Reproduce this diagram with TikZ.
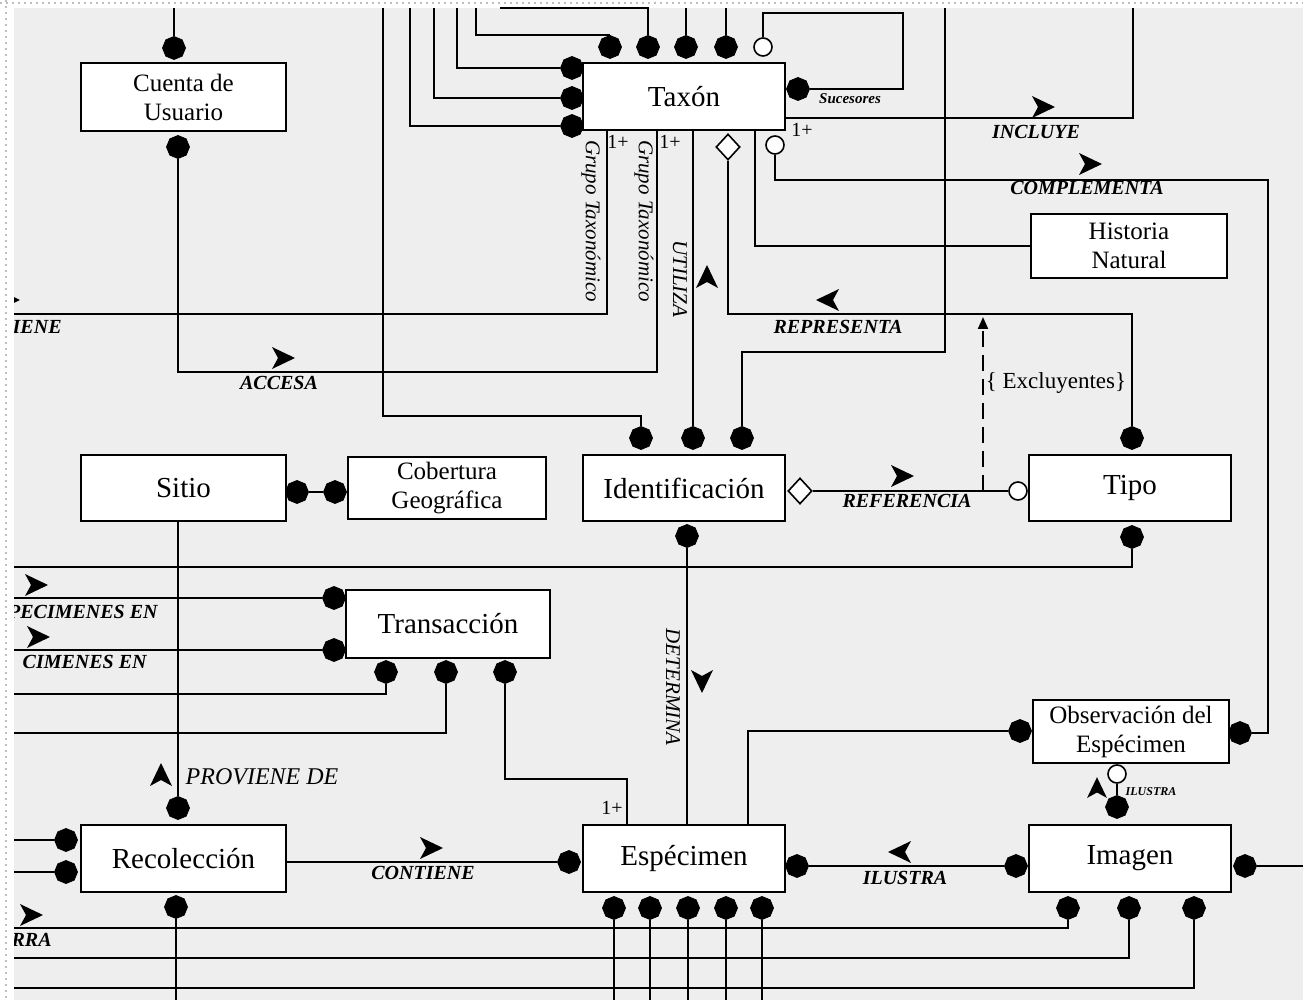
\documentclass[tikz,border=0pt]{standalone}
\usepackage{fontspec}
\setmainfont{Liberation Serif}
\usetikzlibrary{shapes.geometric,arrows.meta}
\pgfdeclarelayer{back}
\pgfdeclarelayer{lines}
\pgfsetlayers{back,lines,main}
\begin{document}
\begin{tikzpicture}[x=0.5pt,y=-0.5pt,
  ent/.style={draw,fill=white,line width=1pt,inner sep=0pt,align=center},
  bigt/.style={font=\fontsize{14.5}{17}\selectfont},
  twot/.style={font=\fontsize{12.5}{14.5}\selectfont},
  fd/.style={regular polygon,regular polygon sides=8,shape border rotate=22.5,fill=black,draw=black,inner sep=0pt,minimum size=11.5pt},
  hc/.style={circle,draw=black,fill=white,line width=0.8pt,inner sep=0pt,minimum size=9pt},
  hd/.style={diamond,draw=black,fill=white,line width=0.8pt,inner sep=0pt,minimum width=12pt,minimum height=13pt},
  rel/.style={font=\fontsize{10.5}{12}\selectfont\itshape,inner sep=0pt},
  relb/.style={font=\fontsize{10}{12}\selectfont\bfseries\itshape,inner sep=0pt},
  card/.style={font=\fontsize{10}{12}\selectfont,inner sep=0pt},
  conn/.style={line width=1pt},
  relarr/.pic={\fill[black] (6pt,0pt) -- (-5.5pt,5.5pt) -- (-2.5pt,0pt) -- (-5.5pt,-5.5pt) -- cycle;}
]
\useasboundingbox (0,0) rectangle (1303,1000);
\begin{pgfonlayer}{back}
\fill[white] (0,0) rectangle (1303,1000);
\fill[gray!13] (14,8) rectangle (1303,1000);
\draw[gray!50,dotted,line width=1pt] (0,3) -- (1303,3);
\draw[gray!50,dotted,line width=1pt] (6,0) -- (6,1000);
\end{pgfonlayer}

% entities
\node[ent,twot,minimum width=102.5pt,minimum height=34pt] (cuenta) at (183.5,97) {Cuenta de\\Usuario};
\node[ent,bigt,minimum width=101pt,minimum height=33.5pt] (taxon) at (684,96.5) {Taxón};
\node[ent,twot,minimum width=98pt,minimum height=32pt] (hist) at (1129,246) {Historia\\Natural};
\node[ent,bigt,minimum width=102.5pt,minimum height=33pt] (sitio) at (183.5,488) {Sitio};
\node[ent,twot,minimum width=99pt,minimum height=31pt] (cob) at (447,488) {Cobertura\\Geográfica};
\node[ent,bigt,minimum width=101pt,minimum height=33pt] (ident) at (684,488) {Identificación};
\node[ent,bigt,minimum width=101pt,minimum height=33pt] (tipo) at (1130,488) {Tipo};
\node[ent,bigt,minimum width=102pt,minimum height=34pt] (trans) at (448,624) {Transacción};
\node[ent,twot,minimum width=98pt,minimum height=31.5pt] (obs) at (1131,731.5) {Observación del\\Espécimen};
\node[ent,bigt,minimum width=102.5pt,minimum height=33.5pt] (recol) at (183.5,858.5) {Recolección};
\node[ent,bigt,minimum width=101pt,minimum height=33.5pt] (espec) at (684,858.5) {Espécimen};
\node[ent,bigt,minimum width=101pt,minimum height=33.5pt] (imagen) at (1130,858.5) {Imagen};

% markers
\node[fd] (mCuT) at (174,48) {};
\node[fd] (mCuB) at (178,147) {};
\node[fd] (mTT1) at (610,47) {};
\node[fd] (mTT2) at (648,47) {};
\node[fd] (mTT3) at (686,47) {};
\node[fd] (mTT4) at (726,47) {};
\node[hc] (cTT5) at (763,47) {};
\node[fd] (mTL1) at (572,68) {};
\node[fd] (mTL2) at (572,98) {};
\node[fd] (mTL3) at (572,126) {};
\node[fd] (mSuc) at (798,89) {};
\node[hd] (dTB) at (728,147) {};
\node[hc] (cTB) at (775,145) {};
\node[fd] (mId1) at (641,438) {};
\node[fd] (mId2) at (693,438) {};
\node[fd] (mId3) at (742,438) {};
\node[hd] (dIdR) at (800,491) {};
\node[fd] (mIdB) at (687,536) {};
\node[hc] (cTipoL) at (1018,491) {};
\node[fd] (mTipoT) at (1132,438) {};
\node[fd] (mTipoB) at (1132,537) {};
\node[fd] (mSitR) at (297,492) {};
\node[fd] (mCobL) at (335,492) {};
\node[fd] (mTrL1) at (334,598) {};
\node[fd] (mTrL2) at (334,650) {};
\node[fd] (mTrB1) at (386,672) {};
\node[fd] (mTrB2) at (446,672) {};
\node[fd] (mTrB3) at (505,672) {};
\node[fd] (mObsL) at (1020,731) {};
\node[fd] (mObsR) at (1240,733) {};
\node[hc] (cObsB) at (1117,774) {};
\node[fd] (mImT) at (1117,807) {};
\node[fd] (mImL) at (1016,866) {};
\node[fd] (mImR) at (1245,866) {};
\node[fd] (mImB1) at (1068,908) {};
\node[fd] (mImB2) at (1129,908) {};
\node[fd] (mImB3) at (1194,908) {};
\node[fd] (mReT) at (178,808) {};
\node[fd] (mReL1) at (66,840) {};
\node[fd] (mReL2) at (66,872) {};
\node[fd] (mReB) at (176,907) {};
\node[fd] (mEsL) at (569,862) {};
\node[fd] (mEsR) at (797,866) {};
\node[fd] (mEsB1) at (614,908) {};
\node[fd] (mEsB2) at (650,908) {};
\node[fd] (mEsB3) at (688,908) {};
\node[fd] (mEsB4) at (726,908) {};
\node[fd] (mEsB5) at (762,908) {};

% free ends
\coordinate (e174) at (174,8);
\coordinate (e457) at (457,8);
\coordinate (e434) at (434,8);
\coordinate (e410) at (410,8);
\coordinate (e476) at (476,8);
\coordinate (e500) at (500,8);
\coordinate (e686) at (686,8);
\coordinate (e726) at (726,8);
\coordinate (e383) at (383,8);
\coordinate (e945) at (945,8);
\coordinate (e1133) at (1133,8);
\coordinate (eL314) at (14,314);
\coordinate (eL567) at (14,567);
\coordinate (eL598) at (14,598);
\coordinate (eL650) at (14,650);
\coordinate (eL694) at (14,694);
\coordinate (eL733) at (14,733);
\coordinate (eL840) at (14,840);
\coordinate (eL872) at (14,872);
\coordinate (eL928) at (14,928);
\coordinate (eL958) at (14,958);
\coordinate (eL988) at (14,988);
\coordinate (eR866) at (1303,866);
\coordinate (eB176) at (176,1000);
\coordinate (exA) at (983,491);
\coordinate (exB) at (983,317);

\begin{pgfonlayer}{lines}
\draw[conn] (mCuT) -- (e174);
\draw[conn] (mCuB) |- (657,372) -- (taxon.south -| 657,0);
\draw[conn] (taxon.south -| 607,0) |- (eL314);
\draw[conn] (taxon.south -| 693,0) -- (mId2);
\draw[conn] (dTB) -- (728,314) -| (mTipoT);
\draw[conn] (taxon.south -| 755,0) |- (hist.west);
\draw[conn] (cTB) |- (1268,180) |- (mObsR);
\draw[conn] (taxon.east |- 0,118) -- (1133,118) -- (e1133);
\draw[conn] (mSuc) -- (903,89) -- (903,13) -| (cTT5);
\draw[conn] (mTL1) -| (e457);
\draw[conn] (mTL2) -| (e434);
\draw[conn] (mTL3) -| (e410);
\draw[conn] (mTT1.north) -| (e476);
\draw[conn] (mTT2) |- (e500);
\draw[conn] (mTT3) -- (e686);
\draw[conn] (mTT4) -- (e726);
\draw[conn] (e383) -- (383,416) -| (mId1);
\draw[conn] (mId3) |- (945,352) -- (e945);
\draw[conn] (dIdR) -- (cTipoL);
\draw[conn,dashed,dash pattern=on 8pt off 4pt,-{Triangle[length=6pt,width=5pt]}] (exA) -- (exB);
\draw[conn] (mIdB) -- (espec.north -| 687,0);
\draw[conn] (mSitR) -- (mCobL);
\draw[conn] (sitio.south -| 178,0) -- (mReT);
\draw[conn] (mTipoB) |- (eL567);
\draw[conn] (mTrL1) -- (eL598);
\draw[conn] (mTrL2) -- (eL650);
\draw[conn] (mTrB1) |- (eL694);
\draw[conn] (mTrB2) |- (eL733);
\draw[conn] (mTrB3) |- (627,779) -- (espec.north -| 627,0);
\draw[conn] (espec.north -| 748,0) |- (mObsL);
\draw[conn] (cObsB) -- (mImT);
\draw[conn] (mImL) -- (mEsR);
\draw[conn] (mImR) -- (eR866);
\draw[conn] (mImB1) |- (eL928);
\draw[conn] (mImB2) |- (eL958);
\draw[conn] (mImB3) |- (eL988);
\foreach \n/\x in {1/614,2/650,3/688,4/726,5/762} {
  \draw[conn] (mEsB\n) -- (\x,1000);
}
\draw[conn] (mReL1) -- (eL840);
\draw[conn] (mReL2) -- (eL872);
\draw[conn] (mReB) -- (eB176);
\draw[conn] (recol.east |- mEsL) -- (mEsL);
\end{pgfonlayer}

% labels
\node[relb] (lInc) at (1036,132) {INCLUYE};
\node[relb] (lCom) at (1087,188) {COMPLEMENTA};
\node[relb] (lRep) at (838,327) {REPRESENTA};
\node[relb] (lAcc) at (279,383) {ACCESA};
\node[relb] (lRef) at (907,501) {REFERENCIA};
\node[relb] (lCon) at (423,873) {CONTIENE};
\node[relb] (lIlu) at (905,878) {ILUSTRA};
\node[rel,font=\fontsize{12}{14}\selectfont\itshape] (lPro) at (262,777) {PROVIENE DE};
\node[rel,font=\fontsize{6}{7}\selectfont\bfseries\itshape] (lIlu2) at (1151,792) {ILUSTRA};
\node[rel,font=\fontsize{7.5}{9}\selectfont\bfseries\itshape] (lSuc) at (850,99) {Sucesores};
\node[font=\fontsize{11.5}{13}\selectfont,inner sep=0pt] (lExc) at (1056,383) {\{ Excluyentes\}};
\node[rel,rotate=-90] (lGT1) at (591,221) {Grupo Taxonómico};
\node[rel,rotate=-90] (lGT2) at (644,221) {Grupo Taxonómico};
\node[rel,rotate=-90] (lUti) at (680,279) {UTILIZA};
\node[rel,rotate=-90] (lDet) at (673,687) {DETERMINA};
\node[card] (c1) at (618,142) {1+};
\node[card] (c2) at (670,142) {1+};
\node[card] (c3) at (802,130) {1+};
\node[card] (c4) at (612,808) {1+};

\begin{scope}
\clip (14,0) rectangle (1303,1000);
\node[relb,anchor=east] (lF1) at (62,327) {IENE};
\node[relb,anchor=east] (lF2) at (158,612) {PECIMENES EN};
\node[relb,anchor=east] (lF3) at (147,662) {CIMENES EN};
\node[relb,anchor=east] (lF4) at (52,940) {RRA};
\pic at (8,300) {relarr};
\end{scope}

% direction arrows
\pic at (1043,107) {relarr};
\pic at (1090,164) {relarr};
\pic at (283,358) {relarr};
\pic[rotate=90] at (707,277) {relarr};
\pic[rotate=180] at (828,300) {relarr};
\pic at (902,476) {relarr};
\pic[rotate=-90] at (702,681) {relarr};
\pic at (36,585) {relarr};
\pic at (38,637) {relarr};
\pic[rotate=90] at (161,775) {relarr};
\pic at (431,848) {relarr};
\pic[rotate=180] at (900,852) {relarr};
\pic[rotate=90,scale=0.9] at (1097,788) {relarr};
\pic at (31,915) {relarr};
\end{tikzpicture}
\end{document}
